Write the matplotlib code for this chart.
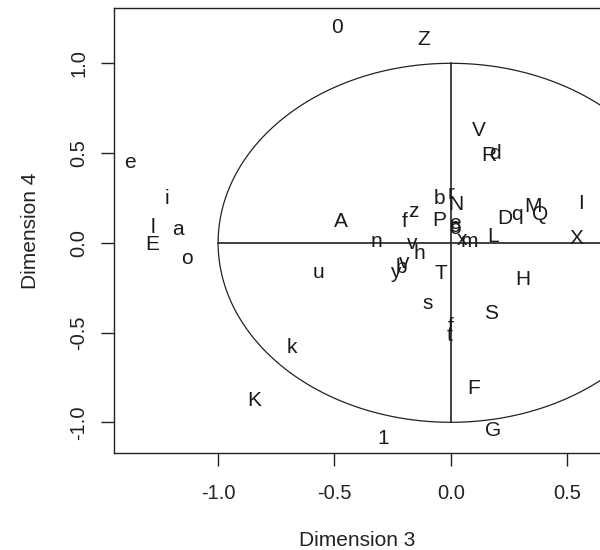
import numpy as np
import matplotlib
matplotlib.use("Agg")
import matplotlib.pyplot as plt

plt.rcParams['font.family'] = ['Liberation Sans', 'DejaVu Sans']

labels = ["0", "Z", "e", "i", "l", "E", "a", "o", "A", "n", "u", "k", "K", "1",
          "F", "G", "S", "H", "s", "f", "t", "T", "y", "b", "v", "v", "h",
          "f", "z", "b", "r", "N", "P", "e", "o", "c", "x", "m", "L", "D",
          "q", "M", "Q", "I", "X", "V", "R", "d"]
dim3 = [-0.489, -0.115, -1.378, -1.221, -1.281, -1.285, -1.171, -1.135, -0.473,
        -0.319, -0.570, -0.683, -0.845, -0.290, 0.099, 0.180, 0.172, 0.308,
        -0.100, 0.000, -0.004, -0.043, -0.240, -0.214, -0.201, -0.168, -0.136,
        -0.197, -0.162, -0.050, 0.000, 0.022, -0.050, 0.018, 0.018, 0.016,
        0.046, 0.080, 0.182, 0.232, 0.283, 0.354, 0.383, 0.559, 0.540, 0.118,
        0.161, 0.189]
dim4 = [1.202, 1.130, 0.446, 0.248, 0.085, -0.012, 0.075, -0.086, 0.118, 0.010,
        -0.167, -0.586, -0.876, -1.089, -0.811, -1.043, -0.393, -0.207, -0.337,
        -0.464, -0.514, -0.170, -0.163, -0.135, -0.107, -0.003, -0.062, 0.118,
        0.173, 0.248, 0.276, 0.211, 0.127, 0.109, 0.080, 0.090, 0.016, 0.010,
        0.034, 0.136, 0.155, 0.201, 0.155, 0.220, 0.025, 0.628, 0.489, 0.499]

xticks = [-1.0, -0.5, 0.0, 0.5]
yticks = [-1.0, -0.5, 0.0, 0.5, 1.0]

W, H = 600, 550
fig = plt.figure(figsize=(W / 100, H / 100), dpi=100)
L, R, B, T = 114, 600.5, 452.7, 8.3
ax = fig.add_axes([L / W, 1 - B / H, (R - L) / W, (B - T) / H])

x0, sx = 450.9, 232.8
y0, sy = 242.8, 179.5
ax.set_xlim((L - x0) / sx, (R - x0) / sx)
ax.set_ylim((y0 - B) / sy, (y0 - T) / sy)

# unit circle and axes cross
th = np.linspace(0, 2 * np.pi, 400)
ax.plot(np.cos(th), np.sin(th), color='#222222', lw=0.9)
ax.plot([-1, 1], [0, 0], color='#333333', lw=1.3)
ax.plot([0, 0], [-1, 1], color='#333333', lw=1.3)

for lab, x, y in zip(labels, dim3, dim4):
    ax.text(x, y, lab, ha='center', va='center', fontsize=15, color='#1a1a1a')

ax.set_xticks(xticks)
ax.set_xticklabels([f"{v:.1f}" for v in xticks])
ax.set_yticks(yticks)
ax.set_yticklabels([f"{v:.1f}" for v in yticks])
ax.tick_params(axis='both', length=9.5, width=1.0, labelsize=14.5,
               color='#222222', labelcolor='#222222')
ax.tick_params(axis='x', pad=13)
ax.tick_params(axis='y', pad=9, labelrotation=90)
for lab in ax.get_yticklabels():
    lab.set_va('center')
for sp in ax.spines.values():
    sp.set_linewidth(1.0)
    sp.set_color('#222222')

fig.text(357 / W, 1 - 540 / H, "Dimension 3", ha='center', va='center',
         fontsize=15, color='#222222')
fig.text(30 / W, 1 - 230.5 / H, "Dimension 4", ha='center', va='center',
         rotation=90, fontsize=15, color='#222222')

fig.savefig("out.png", dpi=100)
